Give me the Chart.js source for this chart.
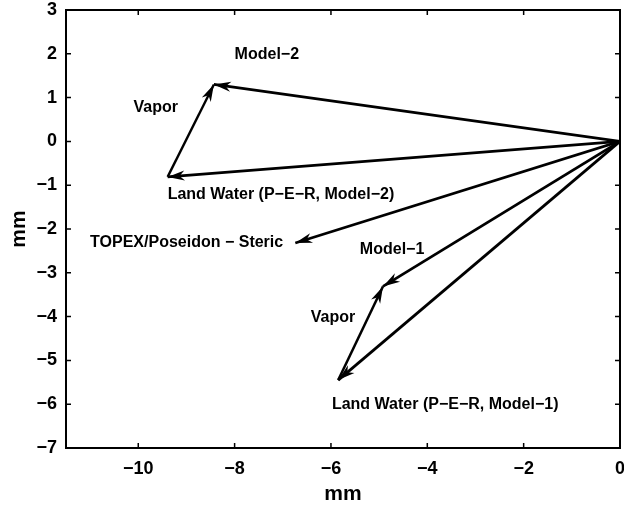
<!DOCTYPE html>
<html>
<head>
<meta charset="utf-8">
<script src="https://cdn.jsdelivr.net/npm/chart.js@4"></script>
<style>
  html, body { margin: 0; padding: 0; background: #fff; }
  #wrap { width: 624px; height: 507px; }
</style>
</head>
<body>
<div id="wrap"><canvas id="grafico"></canvas></div>
<script>
// vectors (mm): start and end points
const arrowNames = ["Model-2", "Land Water 2", "Vapor 2", "TOPEX", "Model-1", "Land Water 1", "Vapor 1"];
const arrowX0 = [0, 0, -9.39, 0, 0, 0, -5.85];
const arrowY0 = [0, 0, -0.81, 0, 0, 0, -5.45];
const arrowX1 = [-8.43, -9.39, -8.43, -6.74, -4.92, -5.85, -4.92];
const arrowY1 = [1.30, -0.81, 1.30, -2.32, -3.31, -5.45, -3.31];

// text labels
const labelText = ["Model\u22122", "Vapor", "Land Water (P\u2212E\u2212R, Model\u22122)", "TOPEX/Poseidon \u2212 Steric",
  "Model\u22121", "Vapor", "Land Water (P\u2212E\u2212R, Model\u22121)"];
const labelX = [-8.0, -10.1, -9.39, -11.0, -5.40, -6.42, -5.98];
const labelY = [1.98, 0.77, -1.22, -2.3, -2.47, -4.03, -6.0];

const xTicks = [-10, -8, -6, -4, -2, 0];
const yTicks = [-7, -6, -5, -4, -3, -2, -1, 0, 1, 2, 3];

const fonte = "'Liberation Sans', Arial, Helvetica, sans-serif";

function minus(v) {
  return v < 0 ? "\u2212" + Math.abs(v) : String(v);
}

const datasets = arrowNames.map((nome, i) => ({
  label: nome,
  data: [{ x: arrowX0[i], y: arrowY0[i] }, { x: arrowX1[i], y: arrowY1[i] }],
  showLine: true,
  borderColor: "#000",
  borderWidth: nome.startsWith("Vapor") ? 2.4 : 2.8,
  pointRadius: 0,
  fill: false
}));

const molduraPlugin = {
  id: "moldura",
  afterDatasetsDraw(chart) {
    const { ctx, chartArea: a, scales: { x, y } } = chart;
    ctx.save();
    ctx.strokeStyle = "#000";
    // inward ticks on all four sides
    ctx.lineWidth = 1.5;
    ctx.beginPath();
    xTicks.forEach(v => {
      const px = x.getPixelForValue(v);
      ctx.moveTo(px, a.bottom); ctx.lineTo(px, a.bottom - 5);
      ctx.moveTo(px, a.top); ctx.lineTo(px, a.top + 5);
    });
    yTicks.forEach(v => {
      const py = y.getPixelForValue(v);
      ctx.moveTo(a.left, py); ctx.lineTo(a.left + 5, py);
      ctx.moveTo(a.right, py); ctx.lineTo(a.right - 5, py);
    });
    ctx.stroke();
    ctx.lineWidth = 2;
    ctx.strokeRect(a.left, a.top, a.right - a.left, a.bottom - a.top);

    // arrow heads
    ctx.fillStyle = "#000";
    arrowNames.forEach((n, i) => {
      const x0 = x.getPixelForValue(arrowX0[i]), y0 = y.getPixelForValue(arrowY0[i]);
      const x1 = x.getPixelForValue(arrowX1[i]), y1 = y.getPixelForValue(arrowY1[i]);
      const ang = Math.atan2(y1 - y0, x1 - x0);
      const len = 17, half = 5, notch = 12;
      ctx.save();
      ctx.translate(x1, y1);
      ctx.rotate(ang);
      ctx.beginPath();
      ctx.moveTo(0, 0);
      ctx.lineTo(-len, -half);
      ctx.lineTo(-notch, 0);
      ctx.lineTo(-len, half);
      ctx.closePath();
      ctx.fill();
      ctx.restore();
    });

    // labels
    ctx.font = "bold 16px " + fonte;
    ctx.textAlign = "left";
    ctx.textBaseline = "middle";
    labelText.forEach((t, i) => {
      ctx.fillText(t, x.getPixelForValue(labelX[i]), y.getPixelForValue(labelY[i]));
    });
    ctx.restore();
  }
};

new Chart(document.getElementById("grafico"), {
  type: "scatter",
  data: { datasets },
  options: {
    responsive: true,
    maintainAspectRatio: false,
    animation: false,
    layout: { padding: { left: 0, right: 4, top: 10, bottom: 0 } },
    plugins: { legend: { display: false }, tooltip: { enabled: false } },
    scales: {
      x: {
        type: "linear",
        min: -11.5,
        max: 0,
        afterBuildTicks: s => { s.ticks = xTicks.map(v => ({ value: v })); },
        afterFit: s => { s.height = 59; s.paddingLeft = 0; s.paddingRight = 0; },
        grid: { display: false, drawTicks: false },
        border: { display: false },
        ticks: { color: "#000", padding: 10, font: { family: fonte, size: 18, weight: "bold" }, callback: v => minus(v), maxRotation: 0 },
        title: { display: true, text: "mm", color: "#000", padding: { top: 2, bottom: 0 }, font: { family: fonte, size: 21, weight: "bold" } }
      },
      y: {
        type: "linear",
        min: -7,
        max: 3,
        afterBuildTicks: s => { s.ticks = yTicks.map(v => ({ value: v })); },
        afterFit: s => { s.width = 66; s.paddingTop = 0; s.paddingBottom = 0; },
        grid: { display: false, drawTicks: false },
        border: { display: false },
        ticks: { color: "#000", padding: 9, font: { family: fonte, size: 18, weight: "bold" }, callback: v => minus(v) },
        title: { display: true, text: "mm", color: "#000", padding: { top: 7, bottom: 0 }, font: { family: fonte, size: 21, weight: "bold" } }
      }
    }
  },
  plugins: [molduraPlugin]
});
</script>
</body>
</html>
